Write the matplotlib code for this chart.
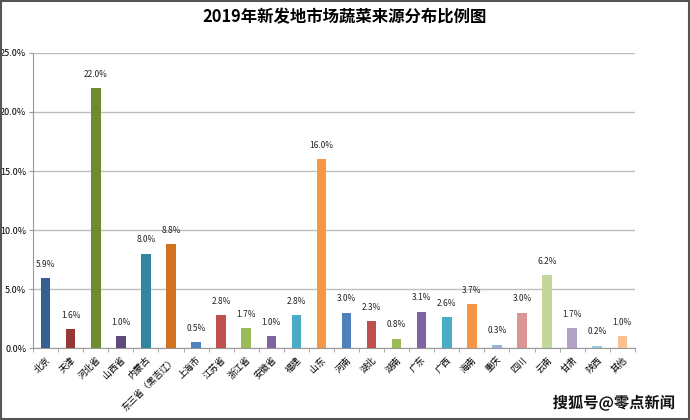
import matplotlib.pyplot as plt
import matplotlib.patches as mpatches
import matplotlib.patheffects as pe
from matplotlib.ticker import FuncFormatter, MultipleLocator, FixedLocator
import numpy as np

plt.rcParams['font.family'] = ['Noto Sans CJK SC', 'DejaVu Sans']

regions = ['北京', '天津', '河北省', '山西省', '内蒙古', '东三省（黑吉辽）', '上海市', '江苏省',
           '浙江省', '安徽省', '福建', '山东', '河南', '湖北', '湖南', '广东', '广西', '海南',
           '重庆', '四川', '云南', '甘肃', '陕西', '其他']
shares = [5.9, 1.6, 22.0, 1.0, 8.0, 8.8, 0.5, 2.8, 1.7, 1.0, 2.8, 16.0,
          3.0, 2.3, 0.8, 3.1, 2.6, 3.7, 0.3, 3.0, 6.2, 1.7, 0.2, 1.0]
colors = ['#376092', '#953735', '#6E8B2E', '#604A7B', '#31859C', '#D2711F',
          '#4F81BD', '#C0504D', '#9BBB59', '#8064A2', '#4BACC6', '#F79646',
          '#4F81BD', '#C0504D', '#9BBB59', '#8064A2', '#4BACC6', '#F79646',
          '#95B3D7', '#D99694', '#C3D69B', '#B3A2C7', '#93CDDD', '#FAC090']

fig = plt.figure(figsize=(6.9, 4.2), dpi=100)
ax = fig.add_axes([0.048, 0.171, 0.872, 0.703])

x = np.arange(len(regions))
ax.bar(x, shares, width=0.38, color=colors, zorder=3)
for xi, v in zip(x, shares):
    ax.text(xi, v + 0.8, f'{v:.1f}%', ha='center', va='bottom', fontsize=6, color='#222222')

ax.set_xlim(-0.5, len(regions) - 0.5)
ax.set_ylim(0, 25)
ax.yaxis.set_major_locator(MultipleLocator(5))
ax.yaxis.set_major_formatter(FuncFormatter(lambda v, p: f'{v:.1f}%'))
ax.grid(axis='y', color='#BDBDBD', linewidth=1.0, zorder=0)

ax.xaxis.set_major_locator(FixedLocator(x))
ax.xaxis.set_minor_locator(FixedLocator(np.arange(-0.5, len(regions), 1)))
ax.set_xticklabels(regions, rotation=45, ha='right', rotation_mode='anchor', fontsize=6.5)
ax.tick_params(axis='x', which='major', length=0, pad=5)
ax.tick_params(axis='x', which='minor', length=3, color='#999999')
ax.tick_params(axis='y', length=3, color='#999999', labelsize=6.5, pad=2)

for s in ['top', 'right']:
    ax.spines[s].set_visible(False)
ax.spines['left'].set_color('#999999')
ax.spines['bottom'].set_color('#999999')

fig.text(0.5, 0.958, '2019年新发地市场蔬菜来源分布比例图', ha='center', va='center',
         fontsize=11.8, fontweight='bold')

wm = fig.text(0.978, 0.04, '搜狐号@零点新闻', ha='right', va='center', fontsize=11,
              fontweight='bold', color='#111111')
wm.set_path_effects([pe.withStroke(linewidth=2, foreground='white')])

fig.patches.append(mpatches.Rectangle((0.001, 0.002), 0.997, 0.996, transform=fig.transFigure,
                                      fill=False, edgecolor='#555555', linewidth=1.5))

fig.savefig('out.png', dpi=100)
